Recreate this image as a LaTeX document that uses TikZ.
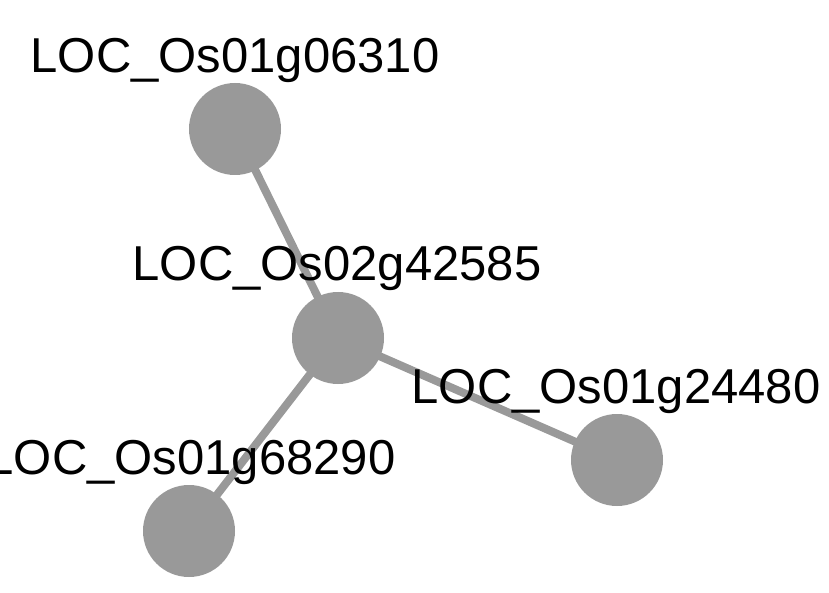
\documentclass[tikz,border=0pt]{standalone}
\usepackage{fontspec}
\setmainfont{Liberation Sans}
\usetikzlibrary{backgrounds}
\definecolor{genegray}{HTML}{999999}

\begin{document}
\begin{tikzpicture}[x=1pt, y=-1pt,
    gene/.style={circle, fill=genegray, minimum size=92pt, inner sep=0pt},
    genelab/.style={anchor=base, inner sep=0pt, font=\fontsize{49}{49}\selectfont},
    link/.style={draw=genegray, line width=8pt}]
      \useasboundingbox (0,0) rectangle (829,593);
      % hub and its three partners
      \node[gene] (os02g42585) at (338,338) {};
      \node[gene] (os01g06310) at (235,129) {};
      \node[gene] (os01g24480) at (617,460) {};
      \node[gene] (os01g68290) at (189,531) {};
      % edges go under the circles
      \begin{scope}[on background layer]
        \draw[link] (os02g42585.center) -- (os01g06310.center);
        \draw[link] (os02g42585.center) -- (os01g24480.center);
        \draw[link] (os02g42585.center) -- (os01g68290.center);
      \end{scope}
      % labels above each circle
      \node[genelab] (lab42585) at (337,281) {LOC\_Os02g42585};
      \node[genelab] (lab06310) at (235,73) {LOC\_Os01g06310};
      \node[genelab] (lab24480) at (616,403) {LOC\_Os01g24480};
      \node[genelab] (lab68290) at (191,474) {LOC\_Os01g68290};
    \end{tikzpicture}
\end{document}
